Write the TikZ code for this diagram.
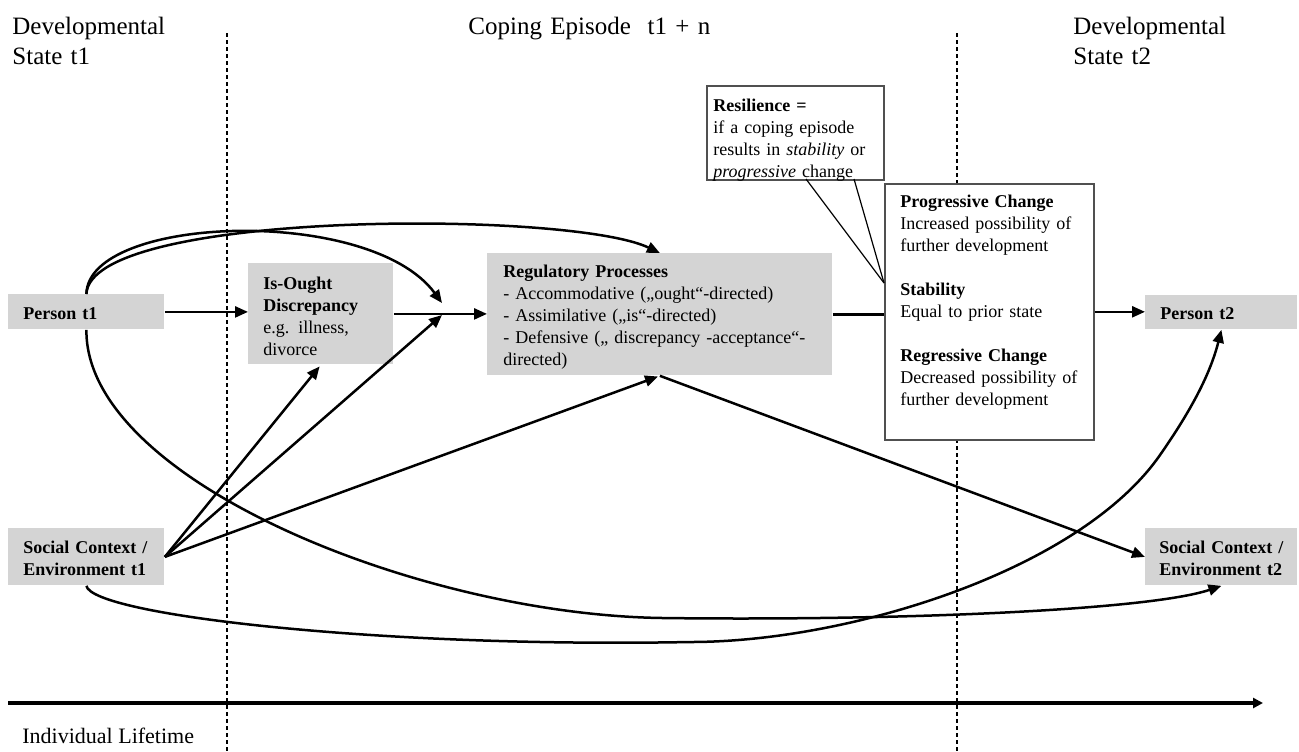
\documentclass[tikz,border=0pt]{standalone}
\usepackage{fontspec}
\setmainfont{Liberation Serif}
\usetikzlibrary{arrows.meta}
\definecolor{boxgray}{RGB}{212,212,212}
\definecolor{framegray}{RGB}{80,80,80}

\begin{document}
\begin{tikzpicture}[x=0.5pt,y=-0.5pt,
  gbox/.style={fill=boxgray, draw=none, inner sep=0pt, anchor=north west},
  wbox/.style={fill=white, draw=framegray, line width=0.8pt, inner sep=0pt, anchor=north west},
  lbl/.style={inner sep=0pt, anchor=base west, align=left, text width=#1,
              font=\fontsize{9}{11}\selectfont},
  lbl/.default=150pt,
  ttl/.style={inner sep=0pt, anchor=base west, align=left, text width=140pt,
              font=\fontsize{12.5}{15}\selectfont},
  link/.style={line width=1.25pt, -{Triangle[length=6.5pt,width=5.5pt]}},
  plain/.style={line width=1.25pt},
  pointer/.style={line width=0.6pt},
  divider/.style={line width=0.9pt, dash pattern=on 2pt off 1.5pt},
  timeline/.style={line width=1.8pt, -{Triangle[length=5pt,width=5pt]}},
]
\useasboundingbox (0,0) rectangle (1299,751);

% phase dividers
\coordinate (dA) at (227,33);  \coordinate (dAb) at (227,751);
\coordinate (dB) at (957,33);  \coordinate (dBb) at (957,751);
\draw[divider] (dA) -- (dAb);
\draw[divider] (dB) -- (dBb);

% headings
\node[ttl] (hd1) at (12,34) {Developmental\\State t1};
\node[ttl] (hd2) at (468,34) {Coping Episode\ \ t1 + n};
\node[ttl] (hd3) at (1073,34) {Developmental\\State t2};

% boxes
\node[gbox, minimum width=78pt,   minimum height=17.5pt] (p1)  at (8,294) {};
\node[gbox, minimum width=78pt,   minimum height=28.5pt] (s1)  at (8,528) {};
\node[gbox, minimum width=72.5pt, minimum height=50.5pt] (io)  at (248,263) {};
\node[gbox, minimum width=172.5pt,minimum height=61pt]   (reg) at (487,253) {};
\node[wbox, minimum width=88.5pt, minimum height=47pt]   (res) at (706,85) {};
\node[wbox, minimum width=104.5pt,minimum height=128pt]  (oc)  at (884,183) {};
\node[gbox, minimum width=76pt,   minimum height=17pt]   (p2)  at (1145,295) {};
\node[gbox, minimum width=76pt,   minimum height=28.5pt] (s2)  at (1145,528) {};

% box texts
\node[lbl] (p1t) at (23,319) {\textbf{Person t1}};
\node[lbl] (s1t) at (23,553) {\textbf{Social Context /}\\\textbf{Environment t1}};
\node[lbl] (iot) at (263,289) {\textbf{Is-Ought}\\\textbf{Discrepancy}\\e.g. illness,\\divorce};
\node[lbl=170pt] (regt) at (503,277) {\textbf{Regulatory Processes}\\
  - Accommodative („ought“-directed)\\
  - Assimilative („is“-directed)\\
  - Defensive („ discrepancy -acceptance“-\\
  directed)};
\node[lbl=110pt] (rest) at (713,111) {\textbf{Resilience =}\\if a coping episode\\
  results in \textit{stability} or\\\textit{progressive} change};
\node[lbl=120pt] (oct) at (900,207) {\textbf{Progressive Change}\\
  Increased possibility of\\further development\\[11pt]
  \textbf{Stability}\\Equal to prior state\\[11pt]
  \textbf{Regressive Change}\\Decreased possibility of\\further development};
\node[lbl] (p2t) at (1160,319) {\textbf{Person t2}};
\node[lbl] (s2t) at (1159,553) {\textbf{Social Context /}\\\textbf{Environment t2}};

% auxiliary points
\coordinate (jn) at (442,315);
\coordinate (jt) at (442,303);
\coordinate (rA) at (806,179);
\coordinate (rB) at (854,179);
\coordinate (pt) at (884,283);
\coordinate (lowA) at (663,618);
\coordinate (lowB) at (690,642);
\coordinate (riseB) at (1160,455);

% main chain
\draw[link] (p1.east) -- (p1.east -| io.west);
\draw[link] (io.east) -- (io.east -| reg.west);
\draw[plain] (reg.east) -- (reg.east -| oc.west);
\draw[link] (oc.east) -- (oc.east -| p2.west);

% resilience pointer
\draw[pointer] (rA) -- (pt);
\draw[pointer] (rB) -- (pt);

% person t1 influences
\draw[link] (p1.north) .. controls (90,210) and (570,210) .. (reg.north);
\draw[link] (p1.north) .. controls (88,215) and (370,205) .. (jt);
\draw[link] (p1.south) .. controls (85,480) and (420,615) .. (lowA)
  .. controls (900,621) and (1150,610) .. (s2.south);

% social context influences
\draw[link, shorten >=1pt] (s1.east) -- (io.south);
\draw[link] (s1.east) -- (jn);
\draw[link, shorten >=1pt] (s1.east) -- (reg.south);
\draw[link] (reg.south) -- (s2.west);
\draw[link] (s1.south) .. controls (92,615) and (380,648) .. (lowB)
  .. controls (850,642) and (1080,570) .. (riseB)
  .. controls (1190,412) and (1210,375) .. (p2.south);

% lifetime axis
\coordinate (t0) at (8,703);
\coordinate (t1) at (1263,703);
\draw[timeline] (t0) -- (t1);
\node[inner sep=0pt, anchor=base west, font=\fontsize{11}{13}\selectfont] (life) at (22,743) {Individual Lifetime};
\end{tikzpicture}
\end{document}
